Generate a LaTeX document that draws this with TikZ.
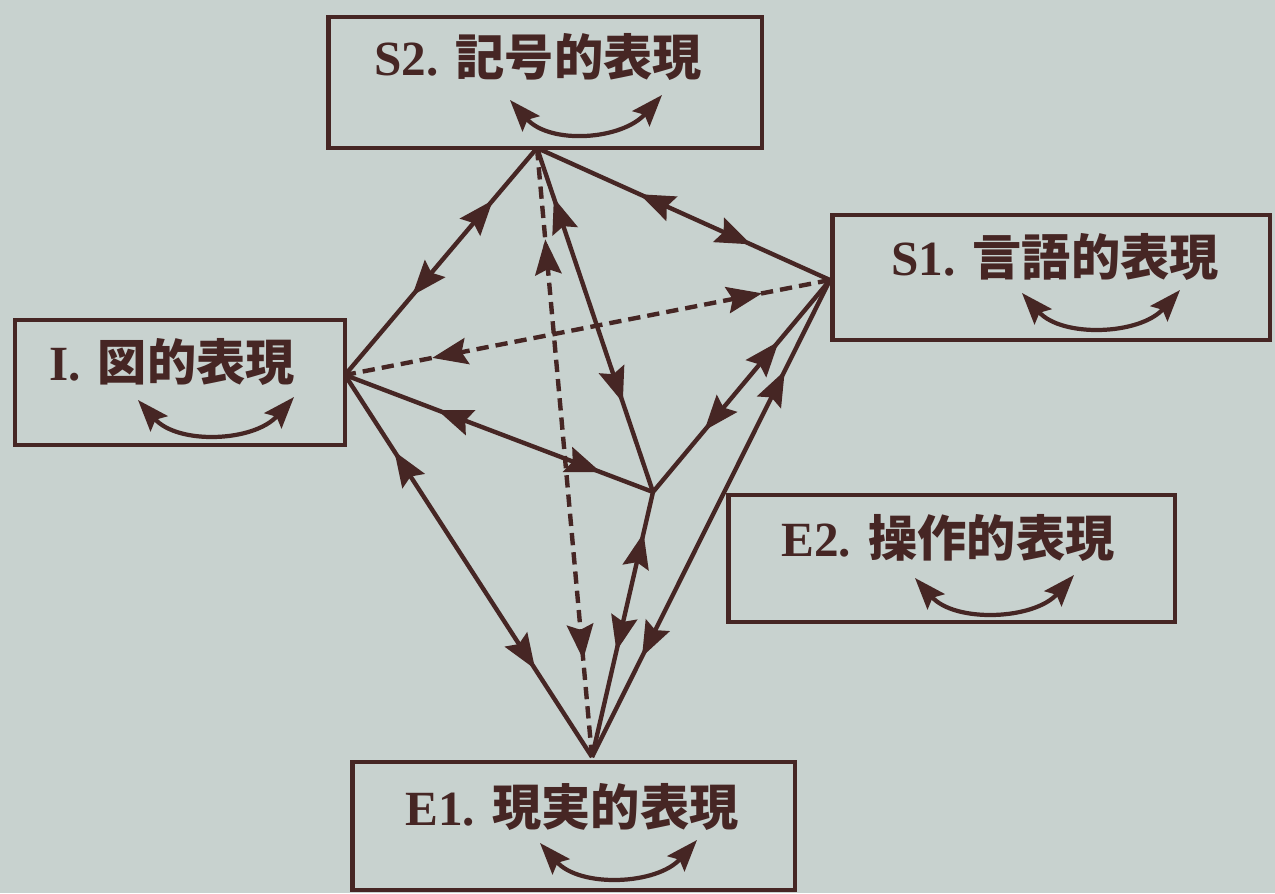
\documentclass[tikz,border=0pt]{standalone}
\usepackage{fontspec}
\setmainfont{Liberation Serif}
\newfontfamily\jp{Noto Sans CJK JP}
\usetikzlibrary{arrows.meta,decorations.markings}
\definecolor{bg}{RGB}{200,210,207}
\definecolor{ink}{RGB}{70,38,36}
\tikzset{
  tipA/.tip={Stealth[length=20pt,width=15pt,inset=3pt]},
  tipB/.tip={Stealth[length=18pt,width=13pt,inset=3pt]},
  box/.style={draw=ink, line width=2.8pt, inner sep=0pt},
  lbl/.style={text=ink, font=\fontsize{28}{30}\selectfont\bfseries, inner sep=0pt},
  link/.style={color=ink, line width=2.5pt},
  dlink/.style={link, dash pattern=on 7pt off 4pt},
  bi/.style 2 args={postaction={decorate}, decoration={markings,
      mark=at position #1 with {\arrowreversed{tipA}},
      mark=at position #2 with {\arrow{tipA}}}},
  swing/.style={color=ink, line width=2.4pt, {tipB}-{tipB}},
}
\begin{document}
\begin{tikzpicture}[x=0.02cm,y=-0.02cm]
\fill[bg] (0,0) rectangle (1275,893);
\useasboundingbox (0,0) rectangle (1275,893);

% boxes
\node[box, minimum width=8.68cm, minimum height=2.62cm] (S2) at (545,82.5) {};
\node[box, minimum width=6.6cm, minimum height=2.5cm] (I) at (180,382.5) {};
\node[box, minimum width=8.76cm, minimum height=2.5cm] (S1) at (1051,277.5) {};
\node[box, minimum width=8.94cm, minimum height=2.54cm] (E2) at (951.5,558.5) {};
\node[box, minimum width=8.86cm, minimum height=2.56cm] (E1) at (573.5,826) {};

% labels
\node[lbl] (S2t) at (538,57) {S2.\hspace{0.35em}{\jp 記号的表現}};
\node[lbl] (It) at (172,362) {I.\hspace{0.35em}{\jp 図的表現}};
\node[lbl] (S1t) at (1055,257) {S1.\hspace{0.35em}{\jp 言語的表現}};
\node[lbl] (E2t) at (948,538) {E2.\hspace{0.35em}{\jp 操作的表現}};
\node[lbl] (E1t) at (572,807) {E1.\hspace{0.35em}{\jp 現実的表現}};

% swing arrows
\coordinate (S2a) at (510,100); \coordinate (S2b) at (662,95);
\coordinate (Ia) at (138,400); \coordinate (Ib) at (294,397);
\coordinate (S1a) at (1022,293); \coordinate (S1b) at (1180,290);
\coordinate (E2a) at (915,578); \coordinate (E2b) at (1074,575);
\coordinate (E1a) at (540,843); \coordinate (E1b) at (697,840);
\draw[swing] (S2a) .. controls +(40,45) and +(-40,45) .. (S2b);
\draw[swing] (Ia) .. controls +(40,45) and +(-40,45) .. (Ib);
\draw[swing] (S1a) .. controls +(40,45) and +(-40,45) .. (S1b);
\draw[swing] (E2a) .. controls +(40,45) and +(-40,45) .. (E2b);
\draw[swing] (E1a) .. controls +(40,45) and +(-40,45) .. (E1b);

% vertices
\coordinate (vS2) at (537,148);
\coordinate (vI) at (345,375);
\coordinate (vS1) at (830,280);
\coordinate (vE1) at (592,757);
\coordinate (vC) at (653,492);

% connectors
\draw[link, bi={0.23}{0.65}] (vS2) -- (vI);
\draw[link, bi={0.35}{0.73}] (vS2) -- (vS1);
\draw[link, bi={0.145}{0.74}] (vS2) -- (vC);
\draw[dlink, bi={0.15}{0.84}] (vS2) -- (vE1);
\draw[dlink, bi={0.14}{0.82}] (vS1) -- (vI);
\draw[link, bi={0.3}{0.83}] (vI) -- (vC);
\draw[link, bi={0.2}{0.77}] (vI) -- (vE1);
\draw[link, bi={0.29}{0.71}] (vC) -- (vS1);
\draw[link, bi={0.155}{0.6}] (vC) -- (vE1);
\draw[link, bi={0.21}{0.81}] (vE1) -- (vS1);
\end{tikzpicture}
\end{document}
